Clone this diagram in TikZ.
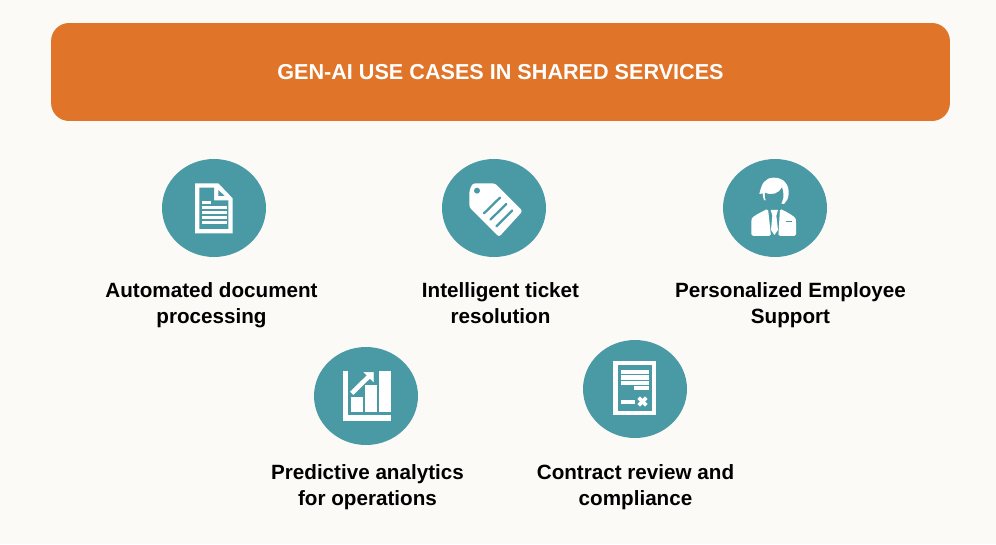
\documentclass[tikz,border=0pt]{standalone}
\usepackage{fontspec}
\setmainfont{Liberation Sans}
\usepackage{tikz}
\usetikzlibrary{shapes.geometric}
\definecolor{paper}{HTML}{FBFAF6}
\definecolor{banner}{HTML}{E07428}
\definecolor{teal}{HTML}{4A9AA6}
\tikzset{
  disc/.style={ellipse,fill=teal,inner sep=0pt,minimum width=2.08cm,minimum height=1.96cm},
  caption/.style={align=center,font=\fontsize{11.75}{14.8}\selectfont\bfseries,text=black,inner sep=0pt,
    execute at begin node=\strut,execute at end node=\strut},
  icon/.style={fill=white,draw=white,line width=0.3pt},
  iconcut/.style={fill=teal,draw=none},
  zoomed/.style={x=0.00667cm,y=-0.00667cm}
}
\begin{document}
\begin{tikzpicture}[x=0.02cm,y=-0.02cm]
\fill[paper] (0,0) rectangle (996,544);
\useasboundingbox (0,0) rectangle (996,544);
\node[fill=banner,rounded corners=0.36cm,minimum width=17.98cm,minimum height=1.96cm,inner sep=0pt,
  text=white,font=\fontsize{12.3}{15}\selectfont\bfseries] (title) at (500.5,72) {GEN-AI USE CASES IN SHARED SERVICES};
\node[disc] (docdisc) at (214,208) {};
\node[disc] (tagdisc) at (494,208) {};
\node[disc] (mandisc) at (775,208) {};
\node[disc] (chartdisc) at (366,396) {};
\node[disc] (contractdisc) at (635,389) {};
\node[caption] (doclabel) at (211.5,306.5) {Automated document\\processing};
\node[caption] (taglabel) at (500.5,306.5) {Intelligent ticket\\resolution};
\node[caption] (manlabel) at (790.5,306.5) {Personalized Employee\\Support};
\node[caption] (chartlabel) at (367.5,488.5) {Predictive analytics\\for operations};
\node[caption] (contractlabel) at (635.5,488.5) {Contract review and\\compliance};
% document
\begin{scope}[shift={(150,150)},zoomed]
\fill[white] (135,100) -- (205,100) -- (248,145) -- (248,250) -- (135,250) -- cycle;
\fill[iconcut] (148,113) -- (192,113) -- (192,151) -- (235,151) -- (235,237) -- (148,237) -- cycle;
\fill[iconcut] (205,120) -- (224,138) -- (205,138) -- cycle;
\filldraw[icon] (157,154) rectangle (181,160);
\foreach \y in {169,184,199,214} \filldraw[icon] (157,\y) rectangle (228,\y+6);
\end{scope}
% tag
\begin{scope}[shift={(430,150)},zoomed]
\fill[white,rounded corners=1.5pt] (118,122) -- (128,100) -- (195,100) -- (278,183) -- (207,261) -- (118,172) -- cycle;
\fill[iconcut] (141,122) circle (9);
\draw[teal,line width=1.3pt,line cap=round] (162,190) -- (210,143);
\draw[teal,line width=1.3pt,line cap=round] (181,209) -- (229,162);
\draw[teal,line width=1.3pt,line cap=round] (199,229) -- (247,181);
\end{scope}
% employee
\begin{scope}[shift={(710,150)},zoomed]
\fill[white] (148,132) .. controls (155,100) and (165,83) .. (192,83) .. controls (222,83) and (238,105) .. (236,132)
  .. controls (235,145) and (230,155) .. (222,162) -- (162,150) .. controls (160,145) and (158,140) .. (158,130) -- cycle;
\fill[iconcut] (165,128) .. controls (185,138) and (208,130) .. (216,112) .. controls (220,125) and (221,135) .. (220,142)
  .. controls (217,162) and (205,176) .. (192,176) .. controls (175,176) and (163,155) .. (165,128) -- cycle;
\fill[white,rounded corners=1pt] (124,258) -- (124,212) .. controls (126,200) and (150,188) .. (174,176) -- (183,258) -- cycle;
\fill[white,rounded corners=1pt] (258,258) -- (258,212) .. controls (256,200) and (234,188) .. (210,176) -- (205,258) -- cycle;
\fill[white] (182,180) -- (204,180) -- (199,197) -- (204,240) -- (193,255) -- (183,240) -- (187,197) -- cycle;
\draw[teal,line width=0.5pt] (228,215) -- (246,215);
\end{scope}
% chart
\begin{scope}[shift={(300,340)},zoomed]
\filldraw[icon] (130,95) -- (142,95) -- (142,227) -- (272,227) -- (272,240) -- (130,240) -- cycle;
\filldraw[icon] (154,172) rectangle (187,214);
\filldraw[icon] (196,136) rectangle (229,214);
\filldraw[icon] (239,95) rectangle (272,214);
\draw[white,line width=2.6pt] (155,160) -- (210,106);
\filldraw[icon] (192,97) -- (220,97) -- (220,125) -- cycle;
\end{scope}
% contract
\begin{scope}[shift={(570,335)},zoomed]
\fill[white] (130,78) rectangle (258,240);
\fill[iconcut] (143,91) rectangle (245,227);
\filldraw[icon] (154,106) rectangle (234,116);
\filldraw[icon] (154,122) rectangle (234,132);
\filldraw[icon] (154,138) rectangle (234,148);
\filldraw[icon] (192,154) rectangle (234,164);
\filldraw[icon] (154,195) rectangle (192,204);
\draw[white,line width=2.1pt] (206,188) -- (229,211);
\draw[white,line width=2.1pt] (206,211) -- (229,188);
\end{scope}
\end{tikzpicture}
\end{document}
